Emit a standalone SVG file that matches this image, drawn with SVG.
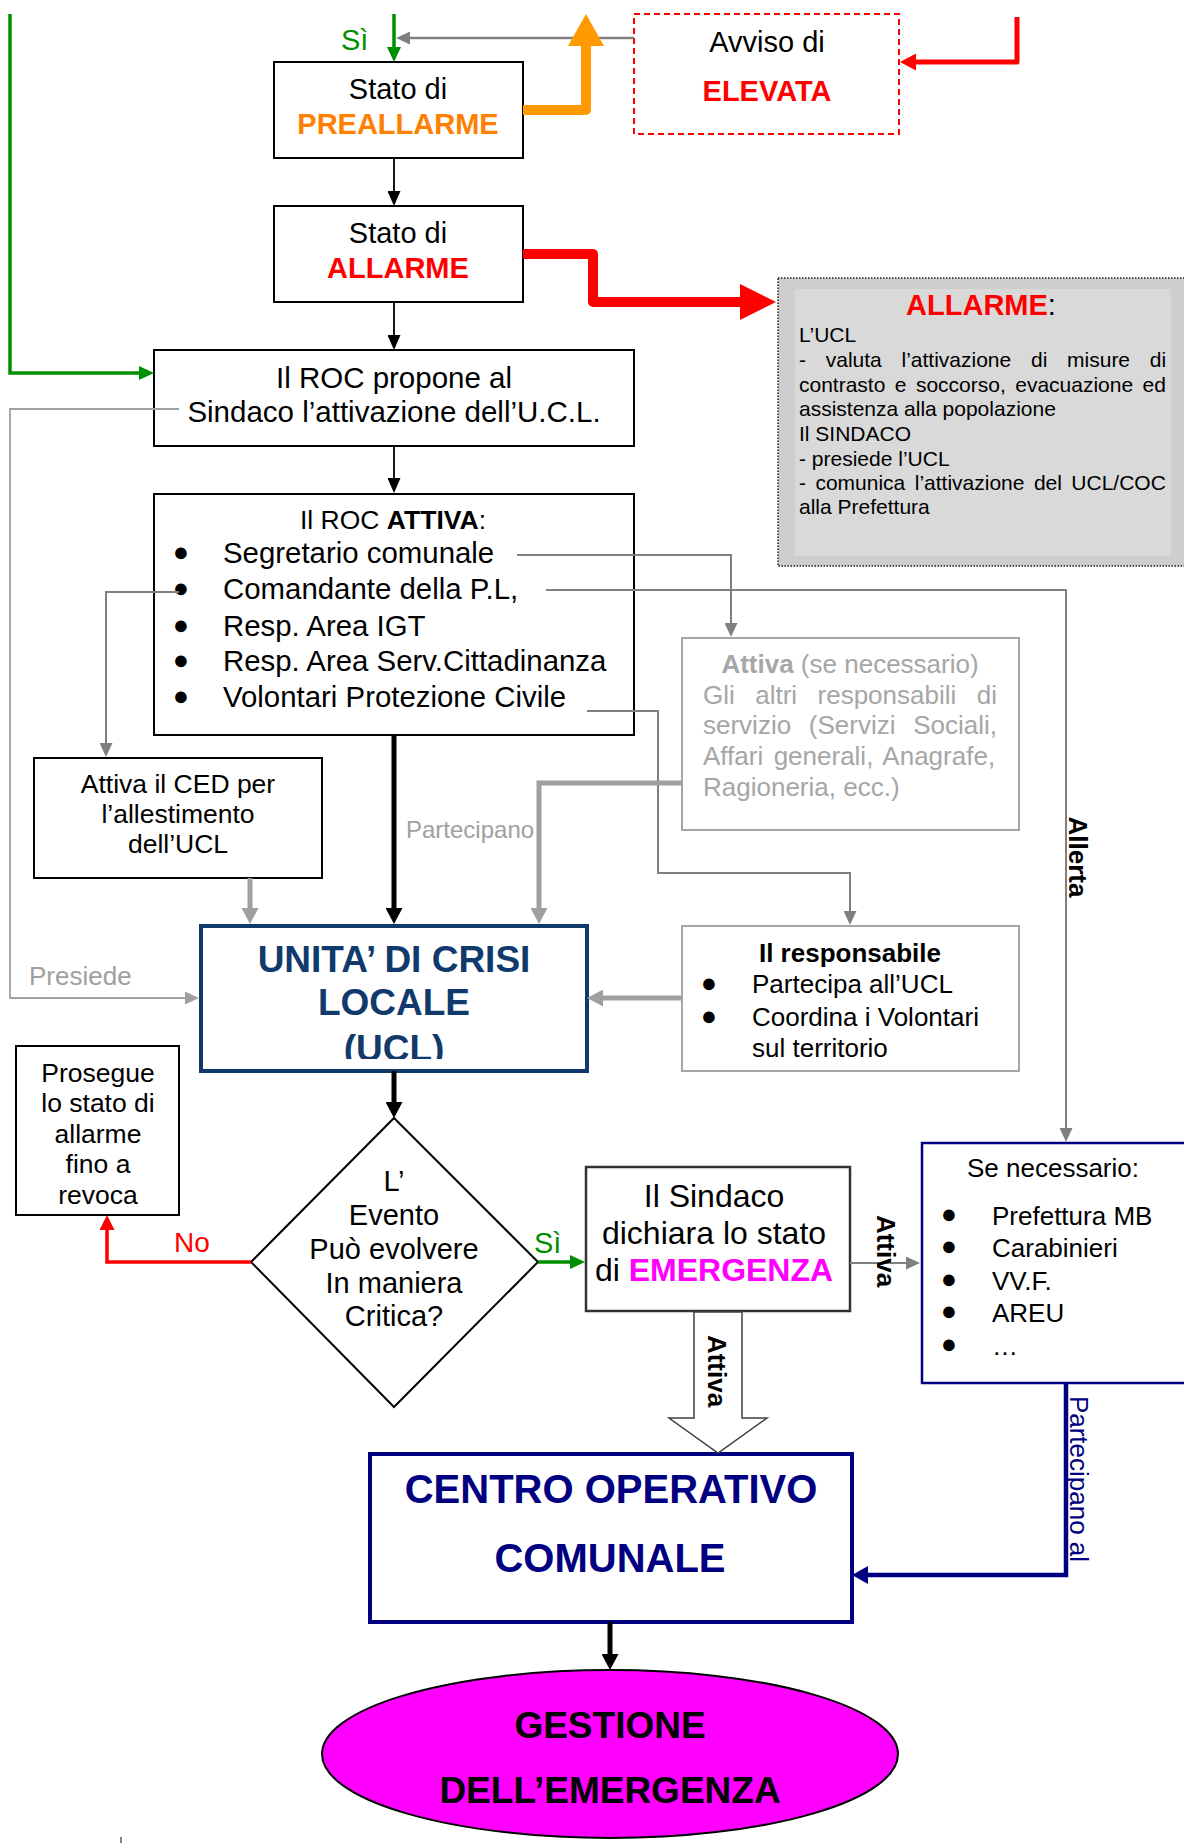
<svg xmlns="http://www.w3.org/2000/svg" width="1184" height="1843" viewBox="0 0 1184 1843">
<defs>
<style>
text{font-family:"Liberation Sans",Arial,sans-serif;fill:#000}
.c{text-anchor:middle}
.b{font-weight:bold}
.box{fill:#fff;stroke:#000;stroke-width:2}
.gbox{fill:#fff;stroke:#A6A6A6;stroke-width:2}
.ln{fill:none}
.gt{fill:#A6A6A6}
.bl{font-size:27px;text-anchor:middle}
</style>
<marker id="a-blk" viewBox="0 0 15 13" markerWidth="15" markerHeight="13" refX="1" refY="6.5" orient="auto" markerUnits="userSpaceOnUse"><path d="M0,0L15,6.5L0,13z" fill="#000"/></marker>
<marker id="a-blk5" viewBox="0 0 16 17" markerWidth="16" markerHeight="17" refX="1" refY="8.5" orient="auto" markerUnits="userSpaceOnUse"><path d="M0,0L16,8.5L0,17z" fill="#000"/></marker>
<marker id="a-gry" viewBox="0 0 14 13" markerWidth="14" markerHeight="13" refX="1" refY="6.5" orient="auto" markerUnits="userSpaceOnUse"><path d="M0,0L14,6.5L0,13z" fill="#808080"/></marker>
<marker id="a-gryl" viewBox="0 0 14 13" markerWidth="14" markerHeight="13" refX="1" refY="6.5" orient="auto" markerUnits="userSpaceOnUse"><path d="M0,0L14,6.5L0,13z" fill="#A0A0A0"/></marker>
<marker id="a-gry5" viewBox="0 0 16 17" markerWidth="16" markerHeight="17" refX="1" refY="8.5" orient="auto" markerUnits="userSpaceOnUse"><path d="M0,0L16,8.5L0,17z" fill="#A0A0A0"/></marker>
<marker id="a-grn" viewBox="0 0 15 14" markerWidth="15" markerHeight="14" refX="1" refY="7" orient="auto" markerUnits="userSpaceOnUse"><path d="M0,0L15,7L0,14z" fill="#008F00"/></marker>
<marker id="a-red" viewBox="0 0 15 15" markerWidth="15" markerHeight="15" refX="1" refY="7.5" orient="auto" markerUnits="userSpaceOnUse"><path d="M0,0L15,7.5L0,15z" fill="#FF0000"/></marker>
<marker id="a-red2" viewBox="0 0 16 17" markerWidth="16" markerHeight="17" refX="1" refY="8.5" orient="auto" markerUnits="userSpaceOnUse"><path d="M0,0L16,8.5L0,17z" fill="#FF0000"/></marker>
<marker id="a-redbig" viewBox="0 0 36 36" markerWidth="36" markerHeight="36" refX="1" refY="18" orient="auto" markerUnits="userSpaceOnUse"><path d="M0,0L36,18L0,36z" fill="#FF0000"/></marker>
<marker id="a-org" viewBox="0 0 32 36" markerWidth="32" markerHeight="36" refX="1" refY="18" orient="auto" markerUnits="userSpaceOnUse"><path d="M0,0L32,18L0,36z" fill="#FF9A00"/></marker>
<marker id="a-navy" viewBox="0 0 16 18" markerWidth="16" markerHeight="18" refX="1" refY="9" orient="auto" markerUnits="userSpaceOnUse"><path d="M0,0L16,9L0,18z" fill="#000080"/></marker>
<clipPath id="ucl-clip"><rect x="201" y="926" width="386" height="133"/></clipPath>
</defs>

<g id="preallarme">
<rect class="box" x="274" y="62" width="249" height="96"/>
<text class="c" x="398" y="99" font-size="29">Stato di</text>
<text class="c b" x="398" y="134" font-size="29" style="fill:#FF8000">PREALLARME</text>
</g>

<g id="avviso">
<rect x="634" y="14" width="265" height="120" fill="#fff" stroke="#FF0000" stroke-width="2" stroke-dasharray="6,4"/>
<text class="c" x="767" y="52" font-size="29">Avviso di</text>
<text class="c b" x="767" y="101" font-size="29" style="fill:#FF0000">ELEVATA</text>
</g>

<g id="allarme">
<rect class="box" x="274" y="206" width="249" height="96"/>
<text class="c" x="398" y="243" font-size="29">Stato di</text>
<text class="c b" x="398" y="278" font-size="29" style="fill:#FF0000">ALLARME</text>
</g>

<g id="allarme-info">
<rect x="778" y="278" width="412" height="288" fill="#CECECE" stroke="#222" stroke-width="1.5" stroke-dasharray="1.5,1.5"/>
<rect x="795" y="289" width="376" height="267" fill="#D9D9D9"/>
<text class="c" x="981" y="315" font-size="29"><tspan class="b" style="fill:#FF0000">ALLARME</tspan>:</text>
<text x="799" y="342" font-size="21">L’UCL</text>
<text x="799" y="367" font-size="21" word-spacing="13.9">- valuta l’attivazione di misure di</text>
<text x="799" y="392" font-size="21" word-spacing="3.6">contrasto e soccorso, evacuazione ed</text>
<text x="799" y="416" font-size="21">assistenza alla popolazione</text>
<text x="799" y="441" font-size="21">Il SINDACO</text>
<text x="799" y="466" font-size="21">- presiede l’UCL</text>
<text x="799" y="490" font-size="21" word-spacing="3.6">- comunica l’attivazione del UCL/COC</text>
<text x="799" y="514" font-size="21">alla Prefettura</text>
</g>

<g id="roc-propone">
<rect class="box" x="154" y="350" width="480" height="96"/>
<text class="c" x="394" y="388" font-size="29.5">Il ROC propone al</text>
<text class="c" x="394" y="422" font-size="29.5">Sindaco l’attivazione dell’U.C.L.</text>
</g>

<g id="roc-attiva">
<rect class="box" x="154" y="494" width="480" height="241"/>
<text class="c" x="393" y="529" font-size="26.5">Il ROC <tspan class="b">ATTIVA</tspan>:</text>
<text class="bl" x="181" y="561">●</text>
<text class="bl" x="181" y="597">●</text>
<text class="bl" x="181" y="634">●</text>
<text class="bl" x="181" y="669">●</text>
<text class="bl" x="181" y="705">●</text>
<text x="223" y="563" font-size="29.4">Segretario comunale</text>
<text x="223" y="599" font-size="29.4">Comandante della P.L,</text>
<text x="223" y="636" font-size="29.4">Resp. Area IGT</text>
<text x="223" y="671" font-size="29.4">Resp. Area Serv.Cittadinanza</text>
<text x="223" y="707" font-size="29.4">Volontari Protezione Civile</text>
</g>

<g id="attiva-se-necessario">
<rect class="gbox" x="682" y="638" width="337" height="192"/>
<text class="c gt" x="850" y="673" font-size="26"><tspan class="b gt">Attiva</tspan> (se necessario)</text>
<text class="gt" x="703" y="704" font-size="26" word-spacing="13.2">Gli altri responsabili di</text>
<text class="gt" x="703" y="734" font-size="26" word-spacing="10.5">servizio (Servizi Sociali,</text>
<text class="gt" x="703" y="765" font-size="26" word-spacing="3.2">Affari generali, Anagrafe,</text>
<text class="gt" x="703" y="796" font-size="26">Ragioneria, ecc.)</text>
</g>

<g id="ced">
<rect class="box" x="34" y="758" width="288" height="120"/>
<text class="c" x="178" y="793" font-size="26.5">Attiva il CED per</text>
<text class="c" x="178" y="823" font-size="26.5">l’allestimento</text>
<text class="c" x="178" y="853" font-size="26.5">dell’UCL</text>
</g>

<g id="ucl">
<rect x="201" y="926" width="386" height="145" fill="#fff" stroke="#0F3A6B" stroke-width="4"/>
<text class="c b" x="394" y="972" font-size="37" style="fill:#0F3A6B">UNITA’ DI CRISI</text>
<text class="c b" x="394" y="1015" font-size="37" style="fill:#0F3A6B">LOCALE</text>
<text class="c b" x="394" y="1061" font-size="37" style="fill:#0F3A6B" clip-path="url(#ucl-clip)">(UCL)</text>
</g>

<g id="responsabile">
<rect class="gbox" x="682" y="926" width="337" height="145"/>
<text class="c b" x="850" y="962" font-size="26">Il responsabile</text>
<text class="bl" x="709" y="992">●</text>
<text class="bl" x="709" y="1025">●</text>
<text x="752" y="993" font-size="26">Partecipa all’UCL</text>
<text x="752" y="1026" font-size="26">Coordina i Volontari</text>
<text x="752" y="1057" font-size="26">sul territorio</text>
</g>

<g id="prosegue">
<rect class="box" x="16" y="1046" width="163" height="169"/>
<text class="c" x="98" y="1082" font-size="26.5">Prosegue</text>
<text class="c" x="98" y="1112" font-size="26.5">lo stato di</text>
<text class="c" x="98" y="1143" font-size="26.5">allarme</text>
<text class="c" x="98" y="1173" font-size="26.5">fino a</text>
<text class="c" x="98" y="1204" font-size="26.5">revoca</text>
</g>

<g id="decisione">
<polygon class="box" points="394,1118 538,1262 394,1407 251,1262"/>
<text class="c" x="394" y="1191" font-size="29">L’</text>
<text class="c" x="394" y="1225" font-size="29">Evento</text>
<text class="c" x="394" y="1259" font-size="29">Può evolvere</text>
<text class="c" x="394" y="1293" font-size="29">In maniera</text>
<text class="c" x="394" y="1326" font-size="29">Critica?</text>
</g>

<g id="sindaco">
<rect x="586" y="1167" width="264" height="144" fill="#fff" stroke="#333" stroke-width="2.5"/>
<text class="c" x="714" y="1207" font-size="32">Il Sindaco</text>
<text class="c" x="714" y="1244" font-size="32">dichiara lo stato</text>
<text class="c" x="714" y="1281" font-size="32">di <tspan class="b" style="fill:#FF00FF">EMERGENZA</tspan></text>
</g>

<g id="se-necessario">
<rect x="922" y="1143" width="272" height="240" fill="#fff" stroke="#000080" stroke-width="2.5"/>
<text x="967" y="1177" font-size="26">Se necessario:</text>
<text class="bl" x="949" y="1223">●</text>
<text class="bl" x="949" y="1255">●</text>
<text class="bl" x="949" y="1288">●</text>
<text class="bl" x="949" y="1320">●</text>
<text class="bl" x="949" y="1353">●</text>
<text x="992" y="1225" font-size="26">Prefettura MB</text>
<text x="992" y="1257" font-size="26">Carabinieri</text>
<text x="992" y="1290" font-size="26">VV.F.</text>
<text x="992" y="1322" font-size="26">AREU</text>
<text x="992" y="1355" font-size="26">…</text>
</g>

<g id="coc">
<rect x="370" y="1454" width="482" height="168" fill="#fff" stroke="#000080" stroke-width="4"/>
<text class="c b" x="611" y="1503" font-size="40" style="fill:#000080">CENTRO OPERATIVO</text>
<text class="c b" x="610" y="1572" font-size="40" style="fill:#000080">COMUNALE</text>
</g>

<g id="gestione">
<ellipse cx="610" cy="1754" rx="288" ry="84" fill="#FF00FF" stroke="#000" stroke-width="2"/>
<text class="c b" x="610" y="1738" font-size="37">GESTIONE</text>
<text class="c b" x="610" y="1803" font-size="37">DELL’EMERGENZA</text>
</g>

<g id="connectors">
<path class="ln" d="M10,14 V373 H140" stroke="#008F00" stroke-width="3.5" marker-end="url(#a-grn)"/>
<path class="ln" d="M394,14 V48" stroke="#008F00" stroke-width="3.5" marker-end="url(#a-grn)"/>
<path class="ln" d="M634,38 H409" stroke="#808080" stroke-width="2.5" marker-end="url(#a-gry)"/>
<path class="ln" d="M1017,17 V62 H915" stroke="#FF0000" stroke-width="5" stroke-linejoin="round" marker-end="url(#a-red2)"/>
<path class="ln" d="M523,110 H586 V45" stroke="#FF9A00" stroke-width="10" stroke-linejoin="round" marker-end="url(#a-org)"/>
<path class="ln" d="M394,158 V192" stroke="#000" stroke-width="1.8" marker-end="url(#a-blk)"/>
<path class="ln" d="M523,254 H593 V302 H741" stroke="#FF0000" stroke-width="10" stroke-linejoin="round" marker-end="url(#a-redbig)"/>
<path class="ln" d="M394,302 V336" stroke="#000" stroke-width="1.8" marker-end="url(#a-blk)"/>
<path class="ln" d="M394,446 V479" stroke="#000" stroke-width="1.8" marker-end="url(#a-blk)"/>
<path class="ln" d="M179,409 H10 V998 H186" stroke="#A0A0A0" stroke-width="1.8" marker-end="url(#a-gryl)"/>
<path class="ln" d="M517,555 H731 V624" stroke="#808080" stroke-width="2" marker-end="url(#a-gry)"/>
<path class="ln" d="M546,590 H1066 V1129" stroke="#808080" stroke-width="2" marker-end="url(#a-gry)"/>
<path class="ln" d="M179,592 H106 V744" stroke="#808080" stroke-width="2" marker-end="url(#a-gry)"/>
<path class="ln" d="M587,711 H658 V873 H850 V912" stroke="#808080" stroke-width="2" marker-end="url(#a-gry)"/>
<path class="ln" d="M682,783 H539 V909" stroke="#A0A0A0" stroke-width="5" marker-end="url(#a-gry5)"/>
<path class="ln" d="M250,878 V909" stroke="#A0A0A0" stroke-width="5" marker-end="url(#a-gry5)"/>
<path class="ln" d="M394,735 V909" stroke="#000" stroke-width="5" marker-end="url(#a-blk5)"/>
<path class="ln" d="M682,998 H602" stroke="#A0A0A0" stroke-width="5" marker-end="url(#a-gry5)"/>
<path class="ln" d="M394,1071 V1103" stroke="#000" stroke-width="5" marker-end="url(#a-blk5)"/>
<path class="ln" d="M251,1262 H107 V1229" stroke="#FF0000" stroke-width="3.5" marker-end="url(#a-red)"/>
<path class="ln" d="M538,1262 H571" stroke="#008F00" stroke-width="3.5" marker-end="url(#a-grn)"/>
<path class="ln" d="M850,1263 H907" stroke="#808080" stroke-width="2" marker-end="url(#a-gry)"/>
<polygon points="694,1312 694,1418 669,1418 718,1453 767,1418 742,1418 742,1312" fill="#fff" stroke="#404040" stroke-width="1.5"/>
<path class="ln" d="M1066,1384 V1575 H867" stroke="#000080" stroke-width="4.5" marker-end="url(#a-navy)"/>
<path class="ln" d="M610,1622 V1655" stroke="#000" stroke-width="5" marker-end="url(#a-blk5)"/>
<line x1="121" y1="1837" x2="121" y2="1843" stroke="#808080" stroke-width="2"/>
<text x="341" y="50" font-size="29" style="fill:#008F00">Sì</text>
<text x="29" y="985" font-size="26" style="fill:#A0A0A0">Presiede</text>
<text x="406" y="838" font-size="24" style="fill:#A0A0A0">Partecipano</text>
<text class="c b" transform="translate(1069,857) rotate(90)" font-size="26">Allerta</text>
<text x="174" y="1252" font-size="28" style="fill:#FF0000">No</text>
<text x="534" y="1253" font-size="29" style="fill:#008F00">Sì</text>
<text class="c b" transform="translate(877,1251) rotate(90)" font-size="26">Attiva</text>
<text class="c b" transform="translate(708,1371) rotate(90)" font-size="26">Attiva</text>
<text class="c" transform="translate(1070,1479) rotate(90)" font-size="26" style="fill:#000080">Partecipano al</text>
</g>
</svg>
